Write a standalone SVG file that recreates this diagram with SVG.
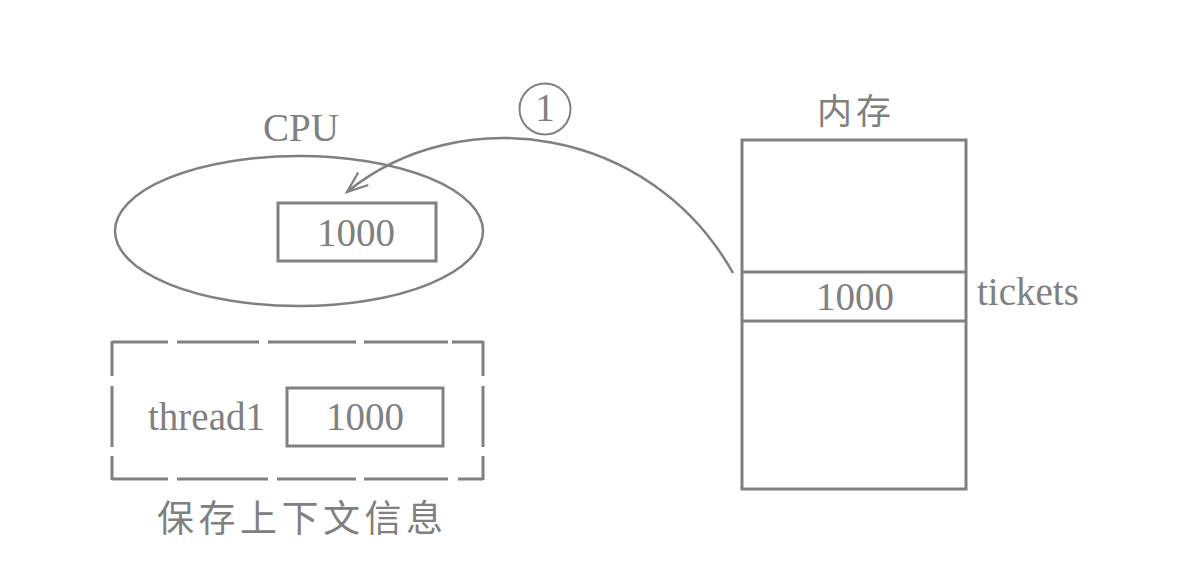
<svg xmlns="http://www.w3.org/2000/svg" width="1194" height="582" viewBox="0 0 1194 582">
<style>
.ln{fill:none;stroke:#808080;}
.t{font-family:"Liberation Serif","Times New Roman",serif;font-size:39px;fill:#808080;}
.c{font-family:"Noto Sans CJK SC",sans-serif;fill:#808080;}
</style>
<defs>
<marker id="arr" markerUnits="userSpaceOnUse" markerWidth="30" markerHeight="30" viewBox="-25 -15 30 30" refX="0" refY="0" orient="auto">
<path d="M-21,-8 L0,0 L-21,8" fill="none" stroke="#808080" stroke-width="2.2"/>
</marker>
</defs>
<rect width="1194" height="582" fill="#ffffff"/>
<g id="cpu">
<ellipse class="ln" cx="299" cy="231" rx="184" ry="75" stroke-width="2.5"/>
<text class="t" x="301" y="141" text-anchor="middle">CPU</text>
<rect class="ln" x="278" y="203" width="158" height="58" stroke-width="3"/>
<text class="t" x="356" y="246" text-anchor="middle">1000</text>
</g>
<g id="context">
<path class="ln" stroke-width="3" d="M112,342H168M177,342H259M268,342H356M364,342H448M452,342H483M112,479H168M177,479H268M277,479H356M364,479H448M458,479H483M112,341V376M112,386V447M112,456V480M483,341V376M483,386V447M483,456V480"/>
<text class="t" x="148" y="430">thread1</text>
<rect class="ln" x="287" y="388" width="156" height="58" stroke-width="3"/>
<text class="t" x="365" y="430" text-anchor="middle">1000</text>
<text class="c" x="157" y="532" font-size="37" letter-spacing="4.5">保存上下文信息</text>
</g>
<g id="memory">
<text class="c" x="817" y="124" font-size="35" letter-spacing="4">内存</text>
<rect class="ln" x="742" y="140" width="224" height="349" stroke-width="3"/>
<line class="ln" x1="742" y1="272" x2="966" y2="272" stroke-width="3"/>
<line class="ln" x1="742" y1="321" x2="966" y2="321" stroke-width="3"/>
<text class="t" x="855" y="310" text-anchor="middle">1000</text>
<text class="t" x="977" y="305">tickets</text>
</g>
<g id="step1">
<circle class="ln" cx="545" cy="109" r="25.5" stroke-width="2"/>
<text class="t" x="545" y="121" text-anchor="middle" font-size="36">1</text>
</g>
<g id="connectors">
<path class="ln" stroke-width="2.5" d="M733,273 C650,125 460,100 347,192" marker-end="url(#arr)"/>
</g>
</svg>
